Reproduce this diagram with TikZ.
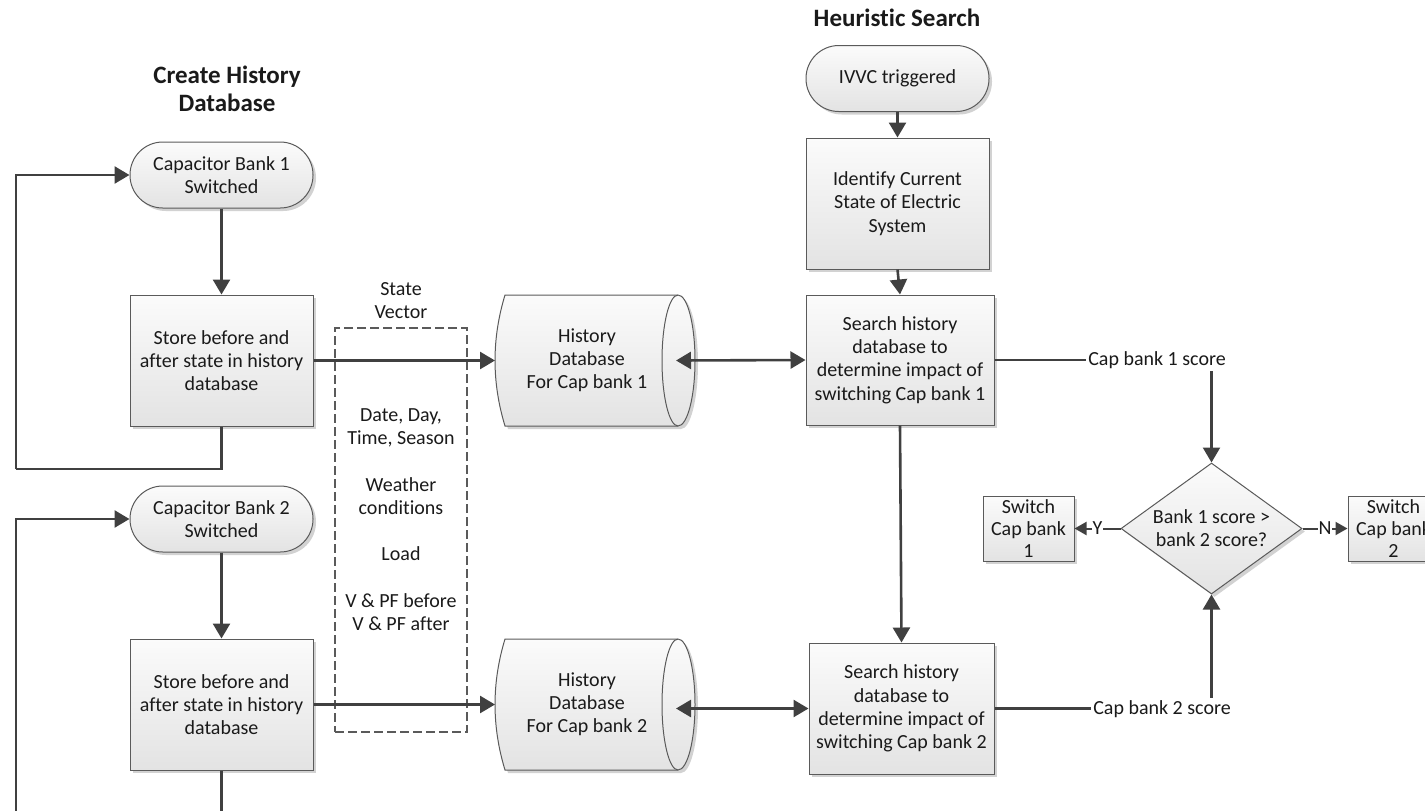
\documentclass[tikz,border=0pt]{standalone}
\usepackage{fontspec}
\setmainfont[Ligatures=NoCommon]{Carlito}
\usetikzlibrary{arrows.meta,shapes.geometric,shadows}
\definecolor{ink}{HTML}{1A1A1A}
\definecolor{wire}{HTML}{404040}
\definecolor{outline}{HTML}{5A5A5A}
\definecolor{fillhi}{HTML}{FBFBFB}
\definecolor{filllo}{HTML}{E3E3E3}
\definecolor{shadowgray}{HTML}{D2D2D2}
\newcommand{\bodyfont}{\fontsize{10}{11.6}\selectfont}
\newcommand{\headfont}{\fontsize{12.5}{14}\selectfont\bfseries}

\begin{document}
\begin{tikzpicture}[x=0.5pt,y=-0.5pt,
  boxbase/.style={draw=outline, line width=0.5pt, top color=fillhi, bottom color=filllo,
    drop shadow={shadow xshift=1.5pt, shadow yshift=-1.5pt, fill=shadowgray, opacity=1},
    text=ink, font=\bodyfont, align=center, inner sep=1pt},
  term/.style={boxbase, rounded corners=16.4pt, minimum width=91.5pt, minimum height=33pt},
  proc/.style={boxbase, minimum width=91.5pt, minimum height=65.5pt},
  smallproc/.style={boxbase, minimum width=45.5pt, minimum height=32.5pt, inner sep=0pt,
    font=\fontsize{10}{11.1}\selectfont},
  decide/.style={boxbase, diamond, aspect=1.38, inner sep=0pt,
    minimum width=90.5pt, minimum height=65.5pt},
  heading/.style={text=ink, font=\headfont, align=center, inner sep=0pt},
  plaintext/.style={text=ink, font=\bodyfont, align=center, inner sep=0pt},
  tag/.style={fill=white, text=ink, font=\bodyfont, inner sep=1pt},
  conn/.style={draw=wire, line width=1.3pt, -{Triangle[length=7.5pt,width=8.5pt]}},
  dualconn/.style={draw=wire, line width=1.3pt,
    {Triangle[length=7.5pt,width=8.5pt]}-{Triangle[length=7.5pt,width=8.5pt]}},
  loopline/.style={draw=wire, line width=1.2pt},
  scoreconn/.style={draw=wire, line width=1.15pt, -{Triangle[length=7.5pt,width=8.5pt]}},
  ynconn/.style={draw=wire, line width=1pt, -{Triangle[length=6pt,width=6.5pt]}},
  pics/dbcyl/.style={code={
    % horizontal data store: curved left end, elliptical right end
    \path[draw=outline, line width=0.5pt, top color=fillhi, bottom color=filllo,
      drop shadow={shadow xshift=1.5pt, shadow yshift=-1.5pt, fill=shadowgray, opacity=1}]
      (-90,-65.5) -- (83,-65.5)
      .. controls (92.4,-65.5) and (100,-36.2) .. (100,0)
      .. controls (100,36.2) and (92.4,65.5) .. (83,65.5)
      -- (-90,65.5)
      .. controls (-103.3,21.8) and (-103.3,-21.8) .. (-90,-65.5) -- cycle;
    \draw[outline, line width=0.5pt]
      (83,-65.5) .. controls (74.2,-65.5) and (67,-36.2) .. (67,0)
      .. controls (67,36.2) and (74.2,65.5) .. (83,65.5);
    \node[plaintext] (-txt) at (-8,0) {#1};
    \coordinate (-w) at (-100,0);
    \coordinate (-e) at (81,0);
  }}
]
\useasboundingbox (0,0) rectangle (1425,810);
\clip (0,0) rectangle (1425,810);

% ---------- headings ----------
\node[heading] (hcreate) at (227,89) {Create History\\Database};
\node[heading] (hsearch) at (897,18) {Heuristic Search};

% ---------- history database creation ----------
\node[term] (cb1) at (221.5,175) {Capacitor Bank 1\\Switched};
\node[proc] (st1) at (221.5,360.5) {Store before and\\after state in history\\database};
\node[term] (cb2) at (221.5,519) {Capacitor Bank 2\\Switched};
\node[proc] (st2) at (221.5,704.5) {Store before and\\after state in history\\database};

\coordinate (loop1) at (16,469);
\coordinate (loop2) at (16,840);

\draw[conn] (cb1.south) -- (st1.north);
\draw[conn] (cb2.south) -- (st2.north);
\draw[loopline] (st1.south) |- (loop1);
\draw[conn] (loop1) |- (cb1.west);
\draw[loopline] (st2.south) |- (loop2);
\draw[conn] (loop2) |- (cb2.west);

% ---------- state vector ----------
\node[plaintext] (svlabel) at (401,300.5) {State\\Vector};
\node[draw=outline, line width=0.6pt, dash pattern=on 4.5pt off 2pt,
      minimum width=66pt, minimum height=202pt, inner sep=0pt] (sv) at (401,530) {};
\node[plaintext] (svtext) at (401,519.5)
  {Date, Day,\\Time, Season\\[11.6pt]Weather\\conditions\\[11.6pt]Load\\[11.6pt]V \& PF before\\V \& PF after};

% ---------- data stores ----------
\pic (db1) at (595,360.5) {dbcyl={History\\Database\\For Cap bank 1}};
\pic (db2) at (595,704.5) {dbcyl={History\\Database\\For Cap bank 2}};

\draw[conn] (st1.east) -- (db1-w);
\draw[conn] (st2.east) -- (db2-w);

% ---------- heuristic search ----------
\node[term] (ivvc) at (897.5,78.5) {IVVC triggered};
\node[proc] (ident) at (897.5,203.5) {Identify Current\\State of Electric\\System};
\node[proc, minimum width=94pt, minimum height=65pt] (s1) at (900,360)
  {Search history\\database to\\determine impact of\\switching Cap bank 1};
\node[proc, minimum width=92.5pt] (s2) at (901.5,708.5)
  {Search history\\database to\\determine impact of\\switching Cap bank 2};

\draw[conn] (ivvc.south) -- (ident.north);
\draw[conn] (ident.south) -- (s1.north);
\draw[conn] (s1.south) -- (s2.north);
\draw[dualconn] (db1-e) -- (s1.west);
\draw[dualconn] (db2-e |- s2.west) -- (s2.west);

% ---------- decision ----------
\node[decide] (dia) at (1211.5,528.5) {Bank 1 score >\\bank 2 score?};
\node[smallproc] (sw1) at (1028.5,528.5) {Switch\\Cap bank\\1};
\node[smallproc] (sw2) at (1393.5,528.5) {Switch\\Cap bank\\2};

\draw[scoreconn] (s1.east) -| (dia.north);
\draw[scoreconn] (s2.east) -| (dia.south);
\node[tag] (score1) at (1157,360) {Cap bank 1 score};
\node[tag] (score2) at (1162,709) {Cap bank 2 score};

\draw[ynconn] (dia.west) -- node[tag, inner sep=0.5pt] (ylab) {Y} (sw1.east);
\draw[ynconn] (dia.east) -- node[tag, inner sep=0.5pt] (nlab) {N} (sw2.west);
\end{tikzpicture}
\end{document}
